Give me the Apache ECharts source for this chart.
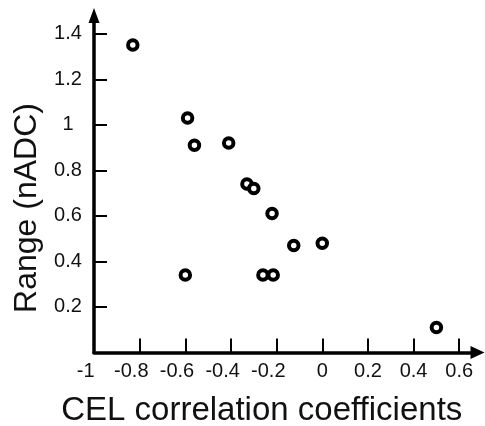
<!DOCTYPE html>
<html>
<head>
<meta charset="utf-8">
<script src="https://cdn.jsdelivr.net/npm/echarts@6/dist/echarts.min.js"></script>
<style>html,body{margin:0;padding:0;background:#fff;}#chart{width:485px;height:426px;}</style>
</head>
<body>
<div id="chart"></div>
<script>
const xValues = [-0.83, -0.59, -0.56, -0.41, -0.33, -0.30, -0.22, -0.125, 0.0, -0.60, -0.26, -0.215, 0.50];
const yValues = [1.35, 1.03, 0.91, 0.92, 0.74, 0.72, 0.61, 0.47, 0.48, 0.34, 0.34, 0.34, 0.11];
const xTickLabels = [-1, -0.8, -0.6, -0.4, -0.2, 0, 0.2, 0.4, 0.6];
const xTickMarks = [-0.8, -0.6, -0.4, -0.2, 0, 0.2, 0.4, 0.6];
const yTickLabels = [0.2, 0.4, 0.6, 0.8, 1, 1.2, 1.4];
const yTickMarks = [0.2, 0.4, 0.6, 0.8, 1, 1.2, 1.4];
const xName = 'CEL correlation coefficients';
const yName = 'Range (nADC)';

const font = 'Liberation Sans, Arial, sans-serif';
const chart = echarts.init(document.getElementById('chart'), null, {renderer: 'canvas'});
chart.setOption({
  animation: false,
  backgroundColor: '#fff',
  grid: {left: 94, right: 7.5, top: 15.5, bottom: 73.5, containLabel: false, outerBoundsMode: 'none'},
  xAxis: {
    type: 'value', min: -1, max: 0.68,
    name: xName, nameLocation: 'middle', nameGap: 42,
    nameTextStyle: {fontFamily: font, fontSize: 33, color: '#111', padding: [0, 48, 0, 0]},
    splitLine: {show: false},
    axisLine: {show: true, onZero: false, symbol: ['none', 'triangle'], symbolSize: [13, 14], lineStyle: {color: '#000', width: 3.5}},
    axisTick: {show: true, inside: true, length: 14, customValues: xTickMarks, lineStyle: {color: '#000', width: 2}},
    axisLabel: {customValues: xTickLabels, margin: 9, fontFamily: font, fontSize: 20, color: '#111',
      formatter: v => (v < 0 ? String(v) + '   ' : String(v))}
  },
  yAxis: {
    type: 'value', min: 0, max: 1.48,
    name: yName, nameLocation: 'middle', nameGap: 48,
    nameTextStyle: {fontFamily: font, fontSize: 32, color: '#111', padding: [0, 48, 0, 0]},
    splitLine: {show: false},
    axisLine: {show: true, onZero: false, symbol: ['none', 'triangle'], symbolSize: [11, 15], lineStyle: {color: '#000', width: 3.5}},
    axisTick: {show: true, inside: true, length: 13, customValues: yTickMarks, lineStyle: {color: '#000', width: 2}},
    axisLabel: {customValues: yTickLabels, margin: 26, align: 'center', fontFamily: font, fontSize: 20, color: '#111', formatter: v => String(v)}
  },
  series: [{
    type: 'scatter',
    data: xValues.map((x, i) => [x, yValues[i]]),
    symbol: 'circle',
    symbolSize: 9.5,
    itemStyle: {color: '#fff', borderColor: '#000', borderWidth: 4, opacity: 1}
  }]
});
</script>
</body>
</html>
